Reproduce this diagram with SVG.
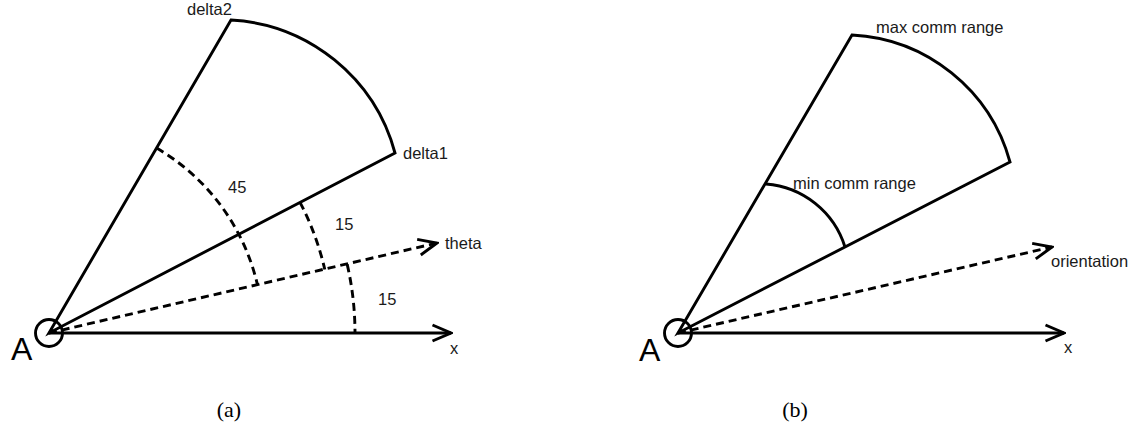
<svg xmlns="http://www.w3.org/2000/svg" width="1135" height="429" viewBox="0 0 1135 429">
<style>
.ln{fill:none;stroke:#000;stroke-width:2.9;stroke-linecap:butt;stroke-linejoin:miter}
.ds{fill:none;stroke:#000;stroke-width:2.9;stroke-dasharray:8 5}
.lb{font-family:"Liberation Sans",Arial,sans-serif;font-size:16.5px;fill:#1a1a1a}
.big{font-family:"Liberation Sans",Arial,sans-serif;font-size:32px;fill:#000}
.cap{font-family:"Liberation Serif","Times New Roman",serif;font-size:22px;fill:#000}
</style>
<defs>
<marker id="arr" markerUnits="userSpaceOnUse" viewBox="0 0 22 20" refX="20" refY="10" markerWidth="22" markerHeight="20" orient="auto">
<path d="M1.5,2 L20,10 L1.5,18" fill="none" stroke="#000" stroke-width="2.9" stroke-dasharray="none"/>
</marker>
</defs>
<rect width="1135" height="429" fill="#fff"/>

<!-- Panel (a) -->
<g id="a-connectors">
<line class="ln" x1="49" y1="333" x2="451" y2="333" marker-end="url(#arr)"/>
<line class="ds" x1="49" y1="333" x2="437" y2="243" marker-end="url(#arr)"/>
<path class="ln" d="M49,333 L231,20 A180,180 0 0 1 395,153 Z"/>
<path class="ds" d="M156.6,148.1 A214,214 0 0 1 257.5,285"/>
<path class="ds" d="M300,202.3 A283,283 0 0 1 324.8,269.5"/>
<path class="ds" d="M347.2,264.4 A306,306 0 0 1 355,333"/>
</g>
<g id="a-node-A">
<circle class="ln" cx="49" cy="333" r="13.5"/>
<text class="big" x="11" y="360">A</text>
</g>
<g id="a-labels">
<text class="lb" x="187" y="15">delta2</text>
<text class="lb" x="403" y="159">delta1</text>
<text class="lb" x="228" y="193">45</text>
<text class="lb" x="335" y="230">15</text>
<text class="lb" x="378" y="305">15</text>
<text class="lb" x="445" y="249">theta</text>
<text class="lb" x="450" y="354">x</text>
</g>
<text class="cap" x="229" y="417" text-anchor="middle">(a)</text>

<!-- Panel (b) -->
<g id="b-connectors">
<line class="ln" x1="678" y1="333" x2="1064" y2="333" marker-end="url(#arr)"/>
<line class="ds" x1="678" y1="333" x2="1052" y2="247" marker-end="url(#arr)"/>
<path class="ln" d="M678,333 L852,35 A173,173 0 0 1 1010,162 Z"/>
<path class="ln" d="M766,184 A90,90 0 0 1 845,247"/>
</g>
<g id="b-node-A">
<circle class="ln" cx="678" cy="333" r="13.5"/>
<text class="big" x="639" y="361">A</text>
</g>
<g id="b-labels">
<text class="lb" x="876" y="33">max comm range</text>
<text class="lb" x="793" y="189">min comm range</text>
<text class="lb" x="1051" y="267">orientation</text>
<text class="lb" x="1064" y="353">x</text>
</g>
<text class="cap" x="795" y="417" text-anchor="middle">(b)</text>
</svg>
